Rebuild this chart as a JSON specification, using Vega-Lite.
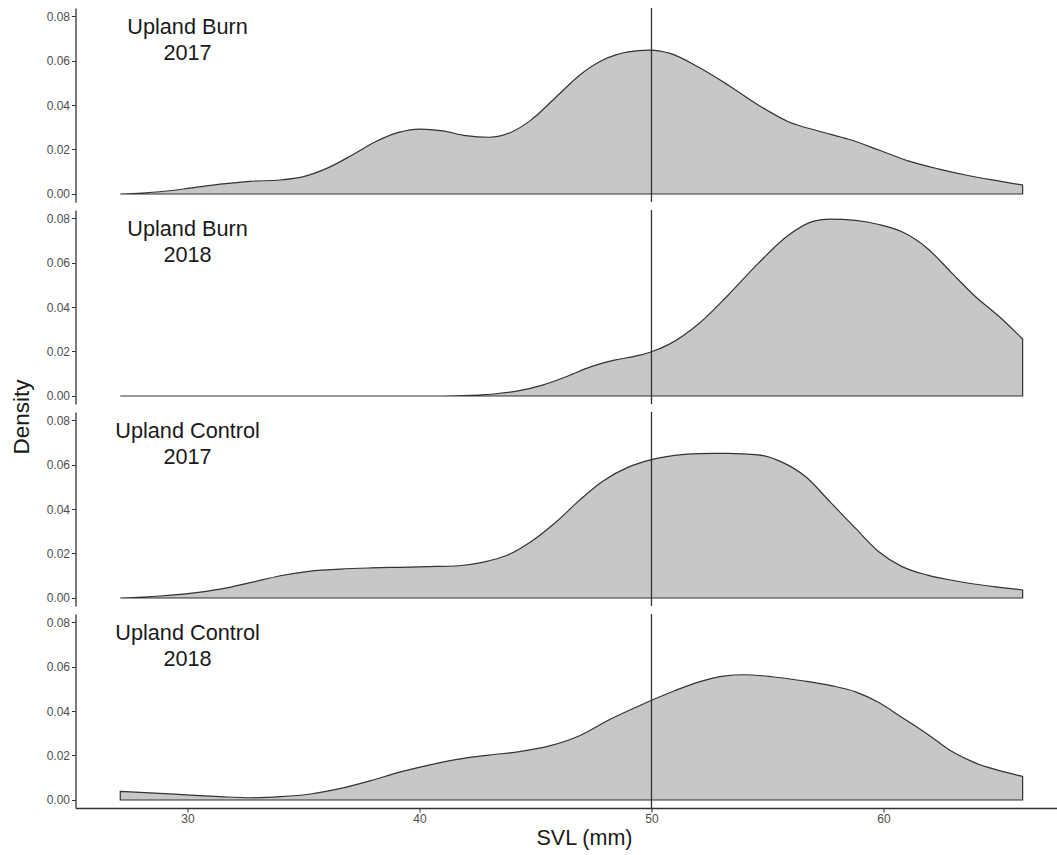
{
  "$schema": "https://vega.github.io/schema/vega-lite/v6.json",
  "padding": {"left": 9.5, "top": 7, "right": 0, "bottom": 4},
  "background": "white",
  "spacing": 8,
  "bounds": "flush",
  "config": {
    "font": "Liberation Sans",
    "view": {"stroke": null},
    "axis": {
      "grid": false,
      "domainColor": "#333333",
      "domainWidth": 1.3,
      "tickColor": "#333333",
      "tickSize": 4,
      "tickWidth": 1,
      "labelColor": "#4D4D4D",
      "labelFontSize": 12,
      "labelPadding": 2,
      "titleFontSize": 21.5,
      "titleFontWeight": "normal",
      "titleColor": "#1a1a1a"
    }
  },
  "datasets": {
    "labels": [
      {"panel": "UB2017", "label": "Upland Burn\n2017"},
      {"panel": "UB2018", "label": "Upland Burn\n2018"},
      {"panel": "UC2017", "label": "Upland Control\n2017"},
      {"panel": "UC2018", "label": "Upland Control\n2018"}
    ],
    "curves": [
      {"panel": "UB2017", "svl": 27.1, "density": 0.0},
      {"panel": "UB2017", "svl": 28.8, "density": 0.001},
      {"panel": "UB2017", "svl": 30.1, "density": 0.0026},
      {"panel": "UB2017", "svl": 31.4, "density": 0.0044},
      {"panel": "UB2017", "svl": 32.7, "density": 0.0057},
      {"panel": "UB2017", "svl": 34.0, "density": 0.0063},
      {"panel": "UB2017", "svl": 35.0, "density": 0.0078},
      {"panel": "UB2017", "svl": 36.0, "density": 0.0115},
      {"panel": "UB2017", "svl": 37.1, "density": 0.0175},
      {"panel": "UB2017", "svl": 38.1, "density": 0.0235},
      {"panel": "UB2017", "svl": 39.1, "density": 0.0277},
      {"panel": "UB2017", "svl": 40.0, "density": 0.0292},
      {"panel": "UB2017", "svl": 41.0, "density": 0.0284},
      {"panel": "UB2017", "svl": 42.0, "density": 0.0262},
      {"panel": "UB2017", "svl": 43.0, "density": 0.0255},
      {"panel": "UB2017", "svl": 44.0, "density": 0.028},
      {"panel": "UB2017", "svl": 44.8, "density": 0.0332},
      {"panel": "UB2017", "svl": 45.9, "density": 0.0437},
      {"panel": "UB2017", "svl": 46.9, "density": 0.0534},
      {"panel": "UB2017", "svl": 47.9, "density": 0.0602},
      {"panel": "UB2017", "svl": 49.0, "density": 0.0639},
      {"panel": "UB2017", "svl": 49.9, "density": 0.0647},
      {"panel": "UB2017", "svl": 50.8, "density": 0.0632},
      {"panel": "UB2017", "svl": 52.0, "density": 0.0572},
      {"panel": "UB2017", "svl": 53.3, "density": 0.049},
      {"panel": "UB2017", "svl": 54.6, "density": 0.040},
      {"panel": "UB2017", "svl": 55.9, "density": 0.0325},
      {"panel": "UB2017", "svl": 57.2, "density": 0.0283},
      {"panel": "UB2017", "svl": 58.5, "density": 0.0246},
      {"panel": "UB2017", "svl": 59.8, "density": 0.0198},
      {"panel": "UB2017", "svl": 61.1, "density": 0.0148},
      {"panel": "UB2017", "svl": 62.4, "density": 0.0112},
      {"panel": "UB2017", "svl": 63.7, "density": 0.0082},
      {"panel": "UB2017", "svl": 65.0, "density": 0.0058},
      {"panel": "UB2017", "svl": 66.0, "density": 0.004},
      {"panel": "UB2018", "svl": 27.1, "density": 0.0},
      {"panel": "UB2018", "svl": 32.0, "density": 0.0},
      {"panel": "UB2018", "svl": 37.0, "density": 0.0},
      {"panel": "UB2018", "svl": 41.0, "density": 0.0},
      {"panel": "UB2018", "svl": 42.2, "density": 0.0003},
      {"panel": "UB2018", "svl": 43.3, "density": 0.001},
      {"panel": "UB2018", "svl": 44.3, "density": 0.0024},
      {"panel": "UB2018", "svl": 45.3, "density": 0.0049},
      {"panel": "UB2018", "svl": 46.4, "density": 0.009},
      {"panel": "UB2018", "svl": 47.4, "density": 0.0132},
      {"panel": "UB2018", "svl": 48.45, "density": 0.0162},
      {"panel": "UB2018", "svl": 49.5, "density": 0.0184},
      {"panel": "UB2018", "svl": 50.0, "density": 0.0199},
      {"panel": "UB2018", "svl": 50.75, "density": 0.0232},
      {"panel": "UB2018", "svl": 52.05, "density": 0.0326},
      {"panel": "UB2018", "svl": 53.3, "density": 0.0453},
      {"panel": "UB2018", "svl": 54.6, "density": 0.0596},
      {"panel": "UB2018", "svl": 55.9, "density": 0.0723},
      {"panel": "UB2018", "svl": 57.0, "density": 0.0786},
      {"panel": "UB2018", "svl": 57.7, "density": 0.0795},
      {"panel": "UB2018", "svl": 58.8, "density": 0.0789},
      {"panel": "UB2018", "svl": 59.8, "density": 0.0771},
      {"panel": "UB2018", "svl": 60.8, "density": 0.0738},
      {"panel": "UB2018", "svl": 61.9, "density": 0.0663},
      {"panel": "UB2018", "svl": 62.9, "density": 0.0558},
      {"panel": "UB2018", "svl": 63.9, "density": 0.0453},
      {"panel": "UB2018", "svl": 65.0, "density": 0.0356},
      {"panel": "UB2018", "svl": 66.0, "density": 0.0256},
      {"panel": "UC2017", "svl": 27.1, "density": 0.0},
      {"panel": "UC2017", "svl": 28.8, "density": 0.0009},
      {"panel": "UC2017", "svl": 30.1, "density": 0.0021},
      {"panel": "UC2017", "svl": 31.4, "density": 0.004},
      {"panel": "UC2017", "svl": 32.7, "density": 0.0069},
      {"panel": "UC2017", "svl": 34.0, "density": 0.01},
      {"panel": "UC2017", "svl": 35.3, "density": 0.0121},
      {"panel": "UC2017", "svl": 36.6, "density": 0.013},
      {"panel": "UC2017", "svl": 37.9, "density": 0.0135},
      {"panel": "UC2017", "svl": 39.1, "density": 0.0138},
      {"panel": "UC2017", "svl": 40.4, "density": 0.0141},
      {"panel": "UC2017", "svl": 41.7, "density": 0.0145},
      {"panel": "UC2017", "svl": 42.7, "density": 0.016},
      {"panel": "UC2017", "svl": 43.8, "density": 0.0193},
      {"panel": "UC2017", "svl": 44.8, "density": 0.0253},
      {"panel": "UC2017", "svl": 45.9, "density": 0.0343},
      {"panel": "UC2017", "svl": 46.9, "density": 0.044},
      {"panel": "UC2017", "svl": 47.9, "density": 0.0525},
      {"panel": "UC2017", "svl": 49.0, "density": 0.0588},
      {"panel": "UC2017", "svl": 50.0, "density": 0.0622},
      {"panel": "UC2017", "svl": 51.0, "density": 0.0641},
      {"panel": "UC2017", "svl": 52.05, "density": 0.0649},
      {"panel": "UC2017", "svl": 53.3, "density": 0.065},
      {"panel": "UC2017", "svl": 54.6, "density": 0.0643},
      {"panel": "UC2017", "svl": 55.6, "density": 0.0612},
      {"panel": "UC2017", "svl": 56.65, "density": 0.0545},
      {"panel": "UC2017", "svl": 57.7, "density": 0.0432},
      {"panel": "UC2017", "svl": 58.8, "density": 0.0313},
      {"panel": "UC2017", "svl": 59.8, "density": 0.0208},
      {"panel": "UC2017", "svl": 60.8, "density": 0.0141},
      {"panel": "UC2017", "svl": 61.9, "density": 0.0103},
      {"panel": "UC2017", "svl": 62.9, "density": 0.0081},
      {"panel": "UC2017", "svl": 63.9, "density": 0.0063},
      {"panel": "UC2017", "svl": 65.0, "density": 0.0048},
      {"panel": "UC2017", "svl": 66.0, "density": 0.0036},
      {"panel": "UC2018", "svl": 27.1, "density": 0.0039},
      {"panel": "UC2018", "svl": 28.8, "density": 0.003},
      {"panel": "UC2018", "svl": 30.1, "density": 0.0022},
      {"panel": "UC2018", "svl": 31.4, "density": 0.0015},
      {"panel": "UC2018", "svl": 32.7, "density": 0.001},
      {"panel": "UC2018", "svl": 34.0, "density": 0.0015},
      {"panel": "UC2018", "svl": 35.3, "density": 0.0027},
      {"panel": "UC2018", "svl": 36.6, "density": 0.0052},
      {"panel": "UC2018", "svl": 37.9, "density": 0.0087},
      {"panel": "UC2018", "svl": 39.1, "density": 0.0124},
      {"panel": "UC2018", "svl": 40.4, "density": 0.0157},
      {"panel": "UC2018", "svl": 41.7, "density": 0.0184},
      {"panel": "UC2018", "svl": 43.0, "density": 0.0202},
      {"panel": "UC2018", "svl": 44.3, "density": 0.0217},
      {"panel": "UC2018", "svl": 45.6, "density": 0.0243},
      {"panel": "UC2018", "svl": 46.9, "density": 0.0289},
      {"panel": "UC2018", "svl": 48.2, "density": 0.0362},
      {"panel": "UC2018", "svl": 49.5, "density": 0.0425},
      {"panel": "UC2018", "svl": 51.0, "density": 0.0491},
      {"panel": "UC2018", "svl": 52.05, "density": 0.0531},
      {"panel": "UC2018", "svl": 53.1, "density": 0.0557},
      {"panel": "UC2018", "svl": 54.0, "density": 0.0563},
      {"panel": "UC2018", "svl": 55.2, "density": 0.0554},
      {"panel": "UC2018", "svl": 56.5, "density": 0.0536},
      {"panel": "UC2018", "svl": 57.8, "density": 0.0513},
      {"panel": "UC2018", "svl": 58.8, "density": 0.0486},
      {"panel": "UC2018", "svl": 59.8, "density": 0.0438},
      {"panel": "UC2018", "svl": 60.8, "density": 0.0371},
      {"panel": "UC2018", "svl": 61.9, "density": 0.0296},
      {"panel": "UC2018", "svl": 62.9, "density": 0.0221},
      {"panel": "UC2018", "svl": 63.9, "density": 0.0169},
      {"panel": "UC2018", "svl": 65.0, "density": 0.0132},
      {"panel": "UC2018", "svl": 66.0, "density": 0.0106}
    ]
  },
  "vconcat": [
    {
      "width": 981,
      "height": 194,
      "layer": [
        {
          "data": {"name": "curves"},
          "transform": [{"filter": "datum.panel == 'UB2017'"}],
          "mark": {"type": "area", "interpolate": "monotone", "fill": "#C6C7C9", "fillOpacity": 1, "stroke": "#333333", "strokeWidth": 1.2},
          "encoding": {
            "x": {"field": "svl", "type": "quantitative", "scale": {"domain": [25.17, 67.46], "nice": false, "zero": false}, "axis": null},
            "y": {"field": "density", "type": "quantitative", "scale": {"domain": [-0.0036, 0.0836], "nice": false, "zero": false},
                  "axis": {"title": null, "values": [0, 0.02, 0.04, 0.06, 0.08], "format": ".2f"}},
            "y2": {"datum": 0}
          }
        },
        {
          "data": {"name": "labels"},
          "transform": [{"filter": "datum.panel == 'UB2017'"}],
          "mark": {"type": "rule", "color": "#333333", "strokeWidth": 1.3},
          "encoding": {"x": {"datum": 50, "type": "quantitative"}}
        },
        {
          "data": {"name": "labels"},
          "transform": [{"filter": "datum.panel == 'UB2017'"}],
          "mark": {"type": "text", "align": "center", "baseline": "middle", "lineBreak": "\n", "lineHeight": 26.5, "fontSize": 21.7, "color": "#1a1a1a"},
          "encoding": {
            "x": {"datum": 30, "type": "quantitative"},
            "y": {"datum": 0.0752, "type": "quantitative"},
            "text": {"field": "label"}
          }
        }
      ]
    },
    {
      "width": 981,
      "height": 194,
      "layer": [
        {
          "data": {"name": "curves"},
          "transform": [{"filter": "datum.panel == 'UB2018'"}],
          "mark": {"type": "area", "interpolate": "monotone", "fill": "#C6C7C9", "fillOpacity": 1, "stroke": "#333333", "strokeWidth": 1.2},
          "encoding": {
            "x": {"field": "svl", "type": "quantitative", "scale": {"domain": [25.17, 67.46], "nice": false, "zero": false}, "axis": null},
            "y": {"field": "density", "type": "quantitative", "scale": {"domain": [-0.0036, 0.0836], "nice": false, "zero": false},
                  "axis": {"title": null, "values": [0, 0.02, 0.04, 0.06, 0.08], "format": ".2f"}},
            "y2": {"datum": 0}
          }
        },
        {
          "data": {"name": "labels"},
          "transform": [{"filter": "datum.panel == 'UB2018'"}],
          "mark": {"type": "rule", "color": "#333333", "strokeWidth": 1.3},
          "encoding": {"x": {"datum": 50, "type": "quantitative"}}
        },
        {
          "data": {"name": "labels"},
          "transform": [{"filter": "datum.panel == 'UB2018'"}],
          "mark": {"type": "text", "align": "center", "baseline": "middle", "lineBreak": "\n", "lineHeight": 26.5, "fontSize": 21.7, "color": "#1a1a1a"},
          "encoding": {
            "x": {"datum": 30, "type": "quantitative"},
            "y": {"datum": 0.0752, "type": "quantitative"},
            "text": {"field": "label"}
          }
        }
      ]
    },
    {
      "width": 981,
      "height": 194,
      "layer": [
        {
          "data": {"name": "curves"},
          "transform": [{"filter": "datum.panel == 'UC2017'"}],
          "mark": {"type": "area", "interpolate": "monotone", "fill": "#C6C7C9", "fillOpacity": 1, "stroke": "#333333", "strokeWidth": 1.2},
          "encoding": {
            "x": {"field": "svl", "type": "quantitative", "scale": {"domain": [25.17, 67.46], "nice": false, "zero": false}, "axis": null},
            "y": {"field": "density", "type": "quantitative", "scale": {"domain": [-0.0036, 0.0836], "nice": false, "zero": false},
                  "axis": {"title": "Density", "titleFontSize": 22.5, "titleY": 4.5, "titlePadding": 13, "values": [0, 0.02, 0.04, 0.06, 0.08], "format": ".2f"}},
            "y2": {"datum": 0}
          }
        },
        {
          "data": {"name": "labels"},
          "transform": [{"filter": "datum.panel == 'UC2017'"}],
          "mark": {"type": "rule", "color": "#333333", "strokeWidth": 1.3},
          "encoding": {"x": {"datum": 50, "type": "quantitative"}}
        },
        {
          "data": {"name": "labels"},
          "transform": [{"filter": "datum.panel == 'UC2017'"}],
          "mark": {"type": "text", "align": "center", "baseline": "middle", "lineBreak": "\n", "lineHeight": 26.5, "fontSize": 21.7, "color": "#1a1a1a"},
          "encoding": {
            "x": {"datum": 30, "type": "quantitative"},
            "y": {"datum": 0.0752, "type": "quantitative"},
            "text": {"field": "label"}
          }
        }
      ]
    },
    {
      "width": 981,
      "height": 194,
      "layer": [
        {
          "data": {"name": "curves"},
          "transform": [{"filter": "datum.panel == 'UC2018'"}],
          "mark": {"type": "area", "interpolate": "monotone", "fill": "#C6C7C9", "fillOpacity": 1, "stroke": "#333333", "strokeWidth": 1.2},
          "encoding": {
            "x": {"field": "svl", "type": "quantitative", "scale": {"domain": [25.17, 67.46], "nice": false, "zero": false},
                  "axis": {"title": "SVL (mm)", "titleX": 508.5, "titlePadding": 3, "labelPadding": 1, "values": [30, 40, 50, 60]}},
            "y": {"field": "density", "type": "quantitative", "scale": {"domain": [-0.0036, 0.0836], "nice": false, "zero": false},
                  "axis": {"title": null, "values": [0, 0.02, 0.04, 0.06, 0.08], "format": ".2f"}},
            "y2": {"datum": 0}
          }
        },
        {
          "data": {"name": "labels"},
          "transform": [{"filter": "datum.panel == 'UC2018'"}],
          "mark": {"type": "rule", "color": "#333333", "strokeWidth": 1.3},
          "encoding": {"x": {"datum": 50, "type": "quantitative"}}
        },
        {
          "data": {"name": "labels"},
          "transform": [{"filter": "datum.panel == 'UC2018'"}],
          "mark": {"type": "text", "align": "center", "baseline": "middle", "lineBreak": "\n", "lineHeight": 26.5, "fontSize": 21.7, "color": "#1a1a1a"},
          "encoding": {
            "x": {"datum": 30, "type": "quantitative"},
            "y": {"datum": 0.0752, "type": "quantitative"},
            "text": {"field": "label"}
          }
        }
      ]
    }
  ]
}
